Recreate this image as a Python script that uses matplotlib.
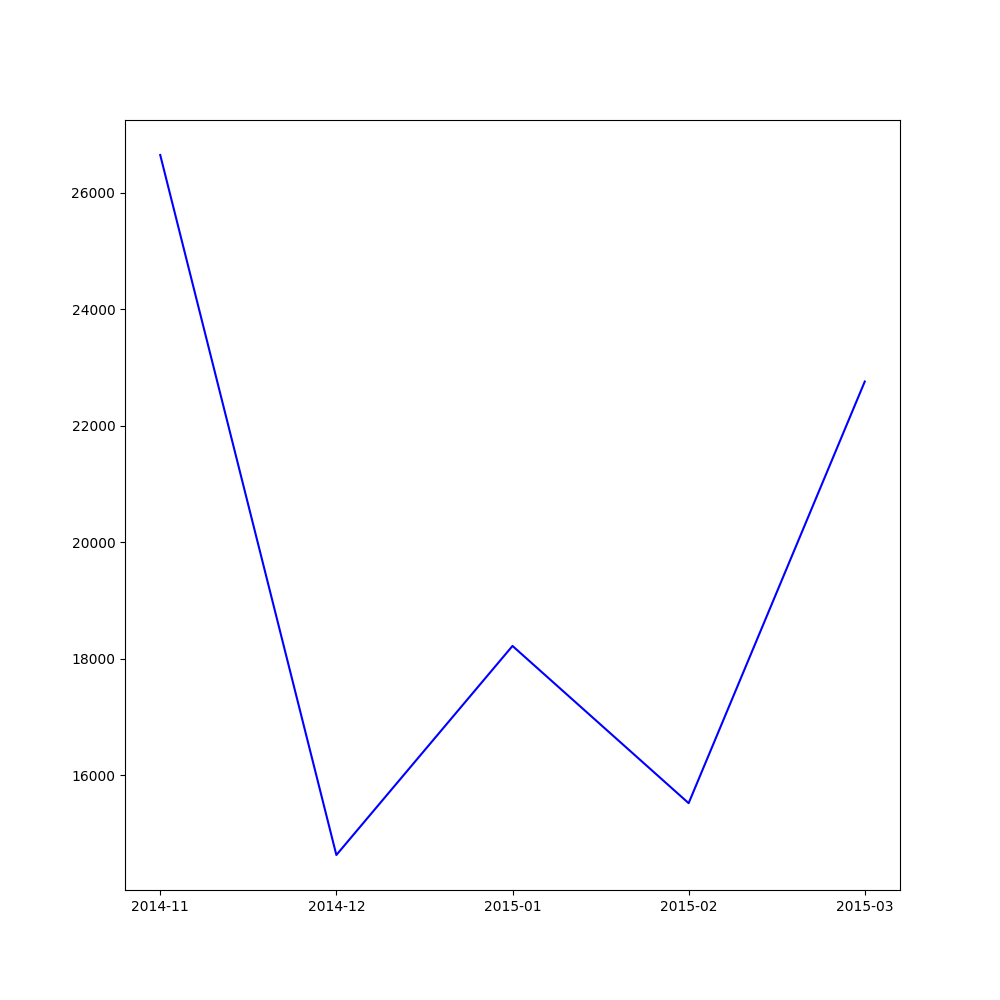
import matplotlib
matplotlib.use("Agg")
import matplotlib.pyplot as plt

months = ["2014-11", "2014-12", "2015-01", "2015-02", "2015-03"]
values = [26650, 14630, 18220, 15520, 22760]

fig, ax = plt.subplots(figsize=(10, 10), dpi=100)
ax.plot(months, values, color="blue")
fig.savefig("out.png")
